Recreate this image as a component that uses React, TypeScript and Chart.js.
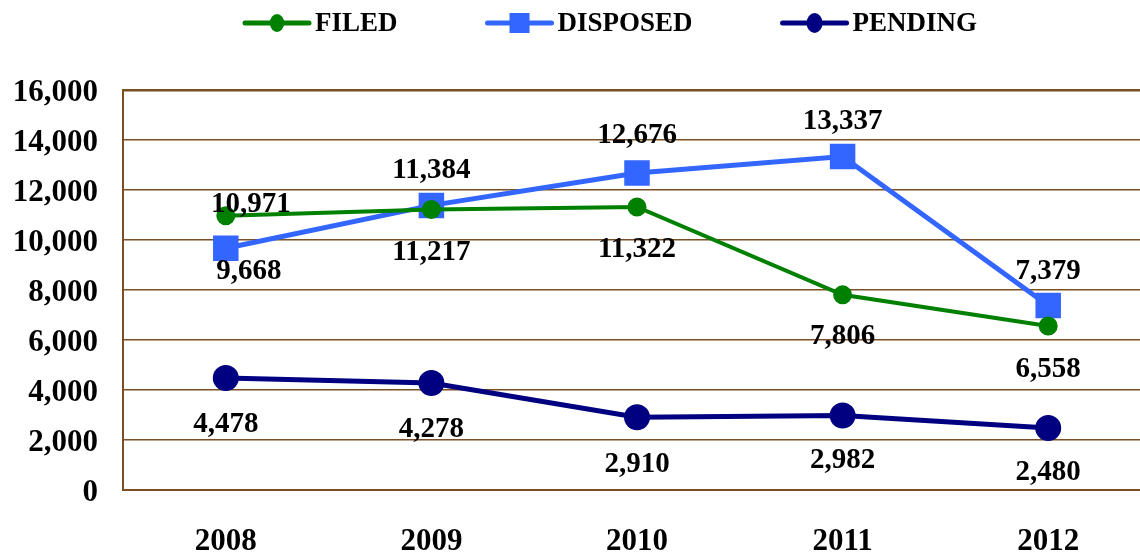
import React, { useEffect, useRef } from "react";
import { Chart, registerables } from "chart.js";

Chart.register(...registerables);

const years = ["2008", "2009", "2010", "2011", "2012"];
const filed = [10971, 11217, 11322, 7806, 6558];
const disposed = [9668, 11384, 12676, 13337, 7379];
const pending = [4478, 4278, 2910, 2982, 2480];
const yTicks = [0, 2000, 4000, 6000, 8000, 10000, 12000, 14000, 16000];

// label placement per point: [dx, dy] in px relative to the point
const filedLabelOffsets = [[25, -11], [0, 43], [0, 43], [0, 42], [0, 43]];
const disposedLabelOffsets = [[23, 23], [0, -35], [0, -38], [0, -35], [0, -34]];
const pendingLabelOffsets = [[0, 46], [0, 46], [0, 47], [0, 45], [0, 45]];

const FONT = "'Liberation Serif', 'Times New Roman', serif";
const GRID = "#7a4f24";

const fmt = (v: number) => v.toLocaleString("en-US");

const dataLabelPlugin = {
  id: "dataLabels",
  afterDatasetsDraw(chart: any) {
    const ctx = chart.ctx;
    ctx.save();
    ctx.font = `bold 29px ${FONT}`;
    ctx.fillStyle = "#000";
    ctx.textAlign = "center";
    ctx.textBaseline = "middle";
    chart.data.datasets.forEach((ds: any, i: number) => {
      const meta = chart.getDatasetMeta(i);
      meta.data.forEach((pt: any, j: number) => {
        const off = ds.labelOffsets[j];
        ctx.fillText(fmt(ds.data[j]), pt.x + off[0], pt.y + off[1]);
      });
    });
    ctx.restore();
  },
};

const legendPlugin = {
  id: "customLegend",
  afterDraw(chart: any) {
    const ctx = chart.ctx;
    ctx.save();
    ctx.font = `bold 27px ${FONT}`;
    ctx.textBaseline = "middle";
    ctx.textAlign = "left";
    let x = 245;
    const y = 23;
    chart.data.datasets.forEach((ds: any) => {
      const w = 64;
      ctx.strokeStyle = ds.borderColor;
      ctx.lineWidth = 5;
      ctx.lineCap = "round";
      ctx.beginPath();
      ctx.moveTo(x, y);
      ctx.lineTo(x + w, y);
      ctx.stroke();
      ctx.fillStyle = ds.pointBackgroundColor;
      const cx = x + w / 2;
      if (ds.pointStyle === "rect") {
        ctx.fillRect(cx - 10, y - 10, 20, 20);
      } else {
        ctx.beginPath();
        ctx.ellipse(cx, y, ds.legendR * 0.8, ds.legendR, 0, 0, Math.PI * 2);
        ctx.fill();
      }
      ctx.fillStyle = "#000";
      ctx.fillText(ds.label, x + w + 6, y + 1);
      x += w + 6 + ctx.measureText(ds.label).width + 90;
    });
    ctx.restore();
  },
};

export default function App() {
  const ref = useRef<HTMLCanvasElement>(null);
  useEffect(() => {
    if (!ref.current) return;
    const chart = new Chart(ref.current, {
      type: "line",
      data: {
        labels: years,
        datasets: [
          {
            label: "FILED",
            data: filed,
            borderColor: "#008000",
            backgroundColor: "#008000",
            pointBackgroundColor: "#008000",
            pointBorderColor: "#008000",
            borderWidth: 4,
            pointRadius: 7.5,
            pointStyle: "circle",
            tension: 0,
            labelOffsets: filedLabelOffsets,
            legendR: 9,
          } as any,
          {
            label: "DISPOSED",
            data: disposed,
            borderColor: "#3366ff",
            backgroundColor: "#3366ff",
            pointBackgroundColor: "#3366ff",
            pointBorderColor: "#3366ff",
            borderWidth: 5,
            pointRadius: 14.5,
            pointStyle: "rect",
            tension: 0,
            labelOffsets: disposedLabelOffsets,
            legendR: 10,
          } as any,
          {
            label: "PENDING",
            data: pending,
            borderColor: "#000080",
            backgroundColor: "#000080",
            pointBackgroundColor: "#000080",
            pointBorderColor: "#000080",
            borderWidth: 5,
            pointRadius: 10.5,
            pointStyle: "circle",
            tension: 0,
            labelOffsets: pendingLabelOffsets,
            legendR: 10,
          } as any,
        ],
      },
      options: {
        responsive: false,
        animation: false,
        devicePixelRatio: 1,
        layout: { autoPadding: false, padding: { top: 90, left: 0, right: 0, bottom: 0 } },
        plugins: {
          legend: { display: false },
          tooltip: { enabled: false },
        },
        scales: {
          x: {
            offset: true,
            grid: { display: false, drawTicks: false },
            border: { display: true, color: GRID, width: 2 },
            ticks: {
              color: "#000",
              font: { family: FONT, size: 31, weight: "bold" },
              padding: 33,
            },
            afterFit: (s: any) => {
              s.height = 64;
              s.paddingLeft = 0;
              s.paddingRight = 0;
            },
          },
          y: {
            min: 0,
            max: 16000,
            afterBuildTicks: (s: any) => {
              s.ticks = yTicks.map((v) => ({ value: v }));
            },
            grid: {
              color: GRID,
              lineWidth: (c: any) => (c.tick && c.tick.value === 16000 ? 2.5 : 1.5),
              drawTicks: false,
            },
            border: { display: true, color: GRID, width: 2 },
            ticks: {
              color: "#000",
              font: { family: FONT, size: 31, weight: "bold" },
              padding: 25,
              labelOffset: 3,
              callback: (v: any) => fmt(Number(v)),
            },
            afterFit: (s: any) => {
              s.width = 123;
            },
          },
        },
      },
      plugins: [dataLabelPlugin, legendPlugin],
    });
    return () => chart.destroy();
  }, []);

  return (
    <div
      style={{
        position: "fixed",
        left: 0,
        top: 0,
        width: 1140,
        height: 554,
        overflow: "hidden",
        background: "#fff",
      }}
    >
      <canvas ref={ref} width={1151} height={554} style={{ display: "block" }} />
    </div>
  );
}
